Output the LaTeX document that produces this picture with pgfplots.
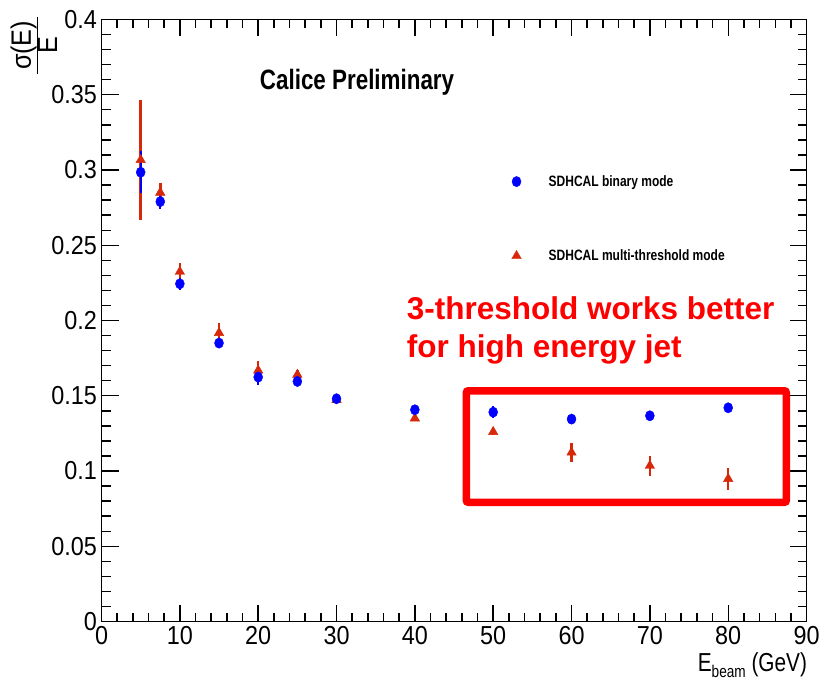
\documentclass[border=0pt]{standalone}
\usepackage{pgfplots}
\pgfplotsset{compat=1.18}
\usepackage{fontspec}
\setmainfont{Liberation Sans}
\newfontfamily\rootfont[FakeStretch=0.9]{Liberation Sans}
\newfontfamily\rootnarrow[FakeStretch=0.8]{Liberation Sans}
\newfontfamily\rootbold[FakeStretch=0.8]{Liberation Sans Bold}
\definecolor{mred}{RGB}{215,40,10}
\definecolor{mblue}{RGB}{0,0,255}
\pgfplotsset{myleg/.style={legend image code/.code={\path (0pt,0pt) (36pt,0pt); \draw[##1] plot coordinates {(6pt,0pt)};}}}
\begin{document}
\begin{tikzpicture}
\begin{axis}[
  scale only axis,
  width=705pt, height=602pt,
  xmin=0, xmax=90, ymin=0, ymax=0.4,
  xtick={0,10,...,90},
  ytick={0,0.05,...,0.4},
  yticklabels={0,0.05,0.1,0.15,0.2,0.25,0.3,0.35,0.4},
  minor x tick num=4, minor y tick num=4,
  tick align=inside,
  major tick length=17pt, minor tick length=9pt,
  axis line style={line width=1.8pt},
  every tick/.style={black, line width=1.4pt},
  tick label style={font=\rootfont\fontsize{26}{26}\selectfont},
  /pgf/number format/assume math mode=true,
  xticklabel style={yshift=-1pt},
  yticklabel style={xshift=-1pt},
  xlabel={E\raisebox{-0.4ex}{\fontsize{17}{17}\selectfont beam} (GeV)},
  xlabel style={font=\rootnarrow\fontsize{26}{26}\selectfont, at={(rel axis cs:1,0)}, anchor=north east, yshift=-28pt, xshift=4pt},
  ylabel={$\frac{\mbox{\rootfont\fontsize{28}{28}\selectfont\hspace{4pt}σ(E)\hspace{4pt}}}{\mbox{\rootfont\fontsize{28}{28}\selectfont E}}$},
  ylabel style={at={(rel axis cs:-0.096,0.957)}, anchor=center},
  legend style={draw=none, fill=none, at={(axis cs:51.78,0.2992)}, anchor=north west,
    font=\rootbold\fontsize{15}{15}\selectfont, row sep=58pt, legend cell align=left},
  reverse legend,
  clip=false,
]
% multi-threshold (red)
\addplot+[only marks, mark=triangle*, mark size=5.5pt, color=mred,
  mark options={fill=mred, draw=mred}, myleg,
  error bars/.cd, y dir=both, y explicit,
  error bar style={line width=2.5pt, mred}, error mark=none]
  table[x=x, y=y, y error=e] {
  x    y      e
  5    0.3067 0.0400
  7.5  0.2850 0.0065
  10   0.2324 0.0055
  15   0.1918 0.0065
  20   0.1668 0.0064
  25   0.1640 0.0030
  30   0.1473 0.0020
  40   0.1350 0.0020
  50   0.1260 0.0020
  60   0.1123 0.0060
  70   0.1035 0.0065
  80   0.0948 0.0075
  };
% binary (blue)
\addplot+[only marks, mark=*, mark size=4.5pt, color=mblue,
  mark options={fill=mblue, draw=mblue, yscale=1.15}, myleg,
  error bars/.cd, y dir=both, y explicit,
  error bar style={line width=2pt, mblue}, error mark=none]
  table[x=x, y=y, y error=e] {
  x    y      e
  5    0.2985 0.0140
  7.5  0.2790 0.0050
  10   0.2244 0.0040
  15   0.1850 0.0030
  20   0.1624 0.0055
  25   0.1595 0.0025
  30   0.1480 0.0020
  40   0.1407 0.0020
  50   0.1391 0.0040
  60   0.1345 0.0020
  70   0.1367 0.0020
  80   0.1420 0.0020
  };
\legend{SDHCAL multi-threshold mode, SDHCAL binary mode}
\draw[red, line width=7.5pt, rounded corners=2pt] (axis cs:46.57,0.1533) rectangle (axis cs:87.42,0.0792);
\node[anchor=base west, inner sep=0pt, text=red, font=\bfseries\fontsize{31.5}{31.5}\selectfont] at (axis cs:38.95,0.2008) {3-threshold works better};
\node[anchor=base west, inner sep=0pt, text=red, font=\bfseries\fontsize{31.5}{31.5}\selectfont] at (axis cs:38.95,0.1755) {for high energy jet};
\node[anchor=base west, inner sep=0pt, font=\rootbold\fontsize{28}{28}\selectfont] at (axis cs:20.2,0.3537) {Calice Preliminary};
\coordinate (bl) at (rel axis cs:-0.144,-0.1035);
\coordinate (tr) at (rel axis cs:1.0262,1.0324);
\end{axis}
\pgfresetboundingbox
\useasboundingbox (bl) rectangle (tr);
\end{tikzpicture}
\end{document}
